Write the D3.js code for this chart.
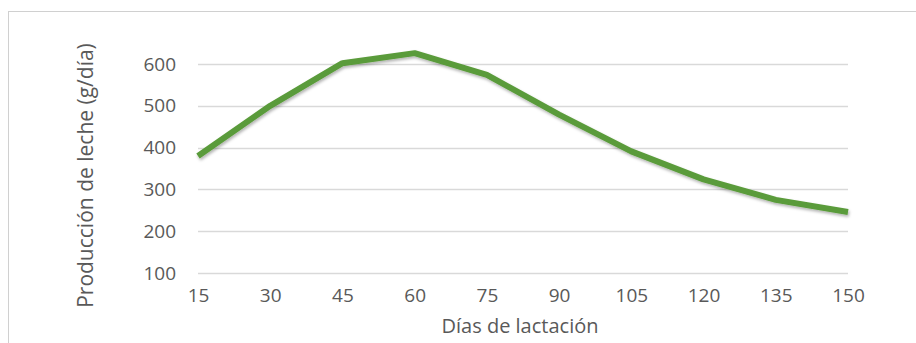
<!DOCTYPE html>
<html>
<head>
<meta charset="utf-8">
<script src="https://cdn.jsdelivr.net/npm/d3@7"></script>
<style>
  body { margin: 0; background: #fff; }
  text { font-family: "Open Sans", sans-serif; fill: #595959; }
</style>
</head>
<body>
<div id="chart"></div>
<script>
// lactation curve
const days = [15, 30, 45, 60, 75, 90, 105, 120, 135, 150];
const milk = [380, 500, 602, 626, 574, 479, 391, 324, 275, 246];
const yTicks = [100, 200, 300, 400, 500, 600];

const width = 916;
const height = 343;
const margin = { left: 198, right: 68, top: 64, bottom: 70 };

const svg = d3.select("#chart")
  .append("svg")
    .attr("width", width)
    .attr("height", height);

// soft shadow under the line, like the office chart
const defs = svg.append("defs");
const shadow = defs.append("filter")
  .attr("id", "shadow")
  .attr("x", "-10%").attr("y", "-10%")
  .attr("width", "120%").attr("height", "130%");
shadow.append("feDropShadow")
  .attr("dx", 1).attr("dy", 2)
  .attr("stdDeviation", 1.5)
  .attr("flood-color", "#000")
  .attr("flood-opacity", 0.3);

// chart border (runs off the right/bottom of the picture)
svg.append("rect")
  .attr("x", 8.5).attr("y", 11.5)
  .attr("width", 1000).attr("height", 1000)
  .attr("fill", "none")
  .attr("stroke", "#d0d0d0");

const x = d3.scalePoint()
  .domain(days)
  .range([margin.left, width - margin.right]);

const y = d3.scaleLinear()
  .domain([100, 600])
  .range([height - margin.bottom, margin.top]);

/// gridlines
svg.append("g")
  .selectAll("line")
  .data(yTicks)
  .join("line")
    .attr("x1", margin.left)
    .attr("x2", width - margin.right)
    .attr("y1", d => Math.round(y(d)) + 0.5)
    .attr("y2", d => Math.round(y(d)) + 0.5)
    .attr("stroke", "#d9d9d9")
    .attr("stroke-width", 1.5);

/// y axis labels
const yAxis = svg.append("g")
  .attr("transform", `translate(${margin.left - 22},0)`)
  .call(d3.axisLeft(y).tickValues(yTicks).tickSize(0).tickPadding(0));
yAxis.select(".domain").remove();
yAxis.selectAll("text")
  .style("font-size", "19px")
  .attr("fill", "#595959");

/// x axis labels
const xAxis = svg.append("g")
  .attr("transform", `translate(0,${height - margin.bottom + 15})`)
  .call(d3.axisBottom(x).tickSize(0).tickPadding(0));
xAxis.select(".domain").remove();
xAxis.selectAll("text")
  .style("font-size", "19px")
  .attr("fill", "#595959");

/// axis titles
svg.append("text")
  .attr("transform", `translate(93,${(margin.top + height - margin.bottom) / 2 + 7}) rotate(-90)`)
  .attr("text-anchor", "middle")
  .style("font-size", "21px")
  .text("Producción de leche (g/día)");

svg.append("text")
  .attr("x", (margin.left + width - margin.right) / 2 - 3)
  .attr("y", 333)
  .attr("text-anchor", "middle")
  .style("font-size", "20px")
  .text("Días de lactación");

/// the line
const line = d3.line()
  .x((d, i) => x(days[i]))
  .y(d => y(d));

svg.append("path")
  .datum(milk)
  .attr("d", line)
  .attr("fill", "none")
  .attr("stroke", "#5a9b3a")
  .attr("stroke-width", 6)
  .attr("stroke-linejoin", "round")
  .attr("filter", "url(#shadow)");
</script>
</body>
</html>
